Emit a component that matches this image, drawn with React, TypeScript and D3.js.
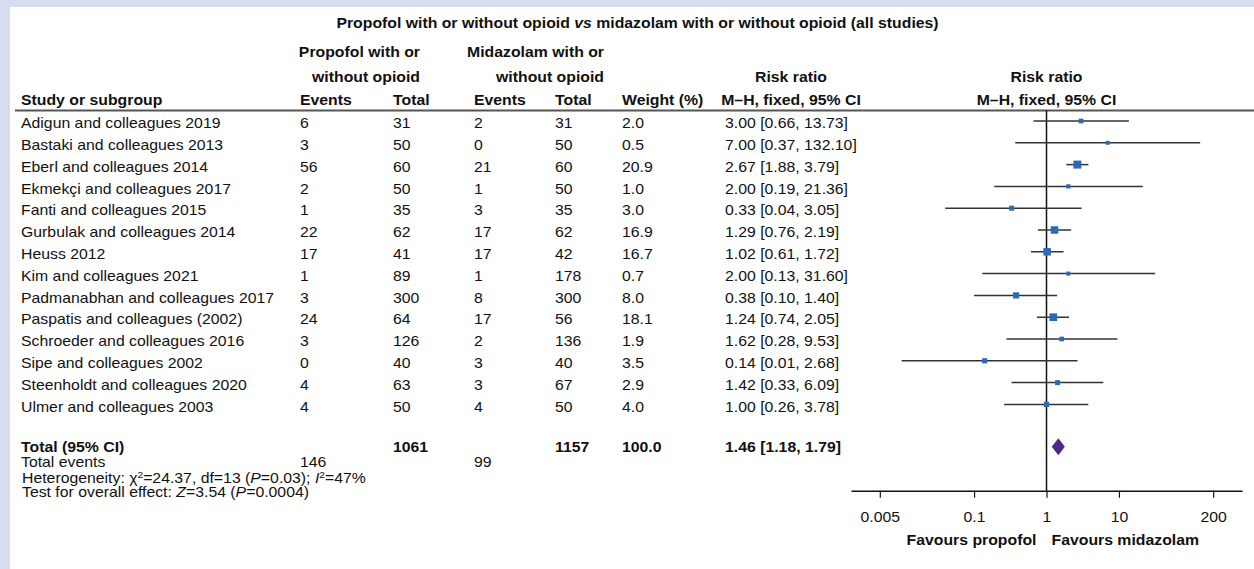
import { useRef, useEffect } from 'react'
import type { ReactNode } from 'react'
import * as d3 from 'd3'

const STUDIES = [
  'Adigun and colleagues 2019',
  'Bastaki and colleagues 2013',
  'Eberl and colleagues 2014',
  'Ekmekçi and colleagues 2017',
  'Fanti and colleagues 2015',
  'Gurbulak and colleagues 2014',
  'Heuss 2012',
  'Kim and colleagues 2021',
  'Padmanabhan and colleagues 2017',
  'Paspatis and colleagues (2002)',
  'Schroeder and colleagues 2016',
  'Sipe and colleagues 2002',
  'Steenholdt and colleagues 2020',
  'Ulmer and colleagues 2003',
]
const PROP_EVENTS = [6, 3, 56, 2, 1, 22, 17, 1, 3, 24, 3, 0, 4, 4]
const PROP_TOTAL = [31, 50, 60, 50, 35, 62, 41, 89, 300, 64, 126, 40, 63, 50]
const MIDA_EVENTS = [2, 0, 21, 1, 3, 17, 17, 1, 8, 17, 2, 3, 3, 4]
const MIDA_TOTAL = [31, 50, 60, 50, 35, 62, 42, 178, 300, 56, 136, 40, 67, 50]
const WEIGHT = [2.0, 0.5, 20.9, 1.0, 3.0, 16.9, 16.7, 0.7, 8.0, 18.1, 1.9, 3.5, 2.9, 4.0]
const RR = [3.0, 7.0, 2.67, 2.0, 0.33, 1.29, 1.02, 2.0, 0.38, 1.24, 1.62, 0.14, 1.42, 1.0]
const RR_LO = [0.66, 0.37, 1.88, 0.19, 0.04, 0.76, 0.61, 0.13, 0.1, 0.74, 0.28, 0.01, 0.33, 0.26]
const RR_HI = [13.73, 132.1, 3.79, 21.36, 3.05, 2.19, 1.72, 31.6, 1.4, 2.05, 9.53, 2.68, 6.09, 3.78]

const TOTAL = { prop: 1061, mida: 1157, weight: 100.0, rr: 1.46, lo: 1.18, hi: 1.79 }
const TOTAL_EVENTS = { prop: 146, mida: 99 }
const X_TICKS = [0.005, 0.1, 1, 10, 200]

const FONT = '"Liberation Sans", Arial, Helvetica, sans-serif'
const INK = '#111'
const BLUE = '#2a6bb8'
const PURPLE = '#4a2b8a'
// the source figure is a bit wider than tall, so text gets a horizontal stretch
const SX = 1.13
const FS = 14

// column x positions
const COL = { study: 21, ev1: 300, tot1: 393, ev2: 474, tot2: 555, weight: 622, rr: 725 }

const fmt2 = (v: number) => v.toFixed(2)
const ciText = (r: number, l: number, h: number) => `${fmt2(r)} [${fmt2(l)}, ${fmt2(h)}]`

function T({ x, y, anchor = 'start', b = false, children }: {
  x: number; y: number; anchor?: string; b?: boolean; children: ReactNode
}) {
  return (
    <text
      transform={`translate(${x},${y}) scale(${SX},1)`}
      textAnchor={anchor}
      fontFamily={FONT}
      fontSize={FS}
      fontWeight={b ? 700 : 400}
      fill={INK}
    >
      {children}
    </text>
  )
}

export default function App() {
  const axisRef = useRef<SVGGElement>(null)
  const W = 1254
  const H = 569

  const x = d3.scaleLog().domain([0.002, 500]).range([851, 1242])
  const yRow = d3.scalePoint<string>().domain(STUDIES).range([121, 404.4])
  const side = d3.scaleSqrt().domain([0, 20.9]).range([3.2, 8])
  const axisY = 490.7
  const totalY = 446.7

  useEffect(() => {
    if (!axisRef.current) return
    const g = d3.select(axisRef.current)
    g.selectAll('*').remove()
    g.call(
      d3.axisBottom(x)
        .tickValues(X_TICKS)
        .tickFormat(d => String(d))
        .tickSize(7)
        .tickSizeOuter(0)
        .tickPadding(14)
    )
    g.select('.domain').attr('stroke', INK).attr('stroke-width', 1.4)
    g.selectAll('.tick line').attr('stroke', INK).attr('stroke-width', 1.2)
    g.selectAll('.tick text')
      .attr('fill', INK)
      .attr('font-size', FS)
      .attr('font-family', FONT)
      .attr('transform', `scale(${SX},1)`)
  }, [])

  return (
    <div style={{ position: 'absolute', left: 0, top: 0 }}>
      <svg width={W} height={H} style={{ display: 'block' }}>
        <rect x={0} y={0} width={W} height={H} fill="#d5ddee" />
        <rect x={10} y={7} width={W - 10} height={H - 7} fill="#fff" />

        {/* title */}
        <T x={637.5} y={28.3} anchor="middle" b>
          Propofol with or without opioid <tspan fontStyle="italic">vs</tspan> midazolam with or without opioid (all studies)
        </T>

        {/* header */}
        <T x={420} y={56.5} anchor="end" b>Propofol with or</T>
        <T x={420} y={82} anchor="end" b>without opioid</T>
        <T x={604} y={56.5} anchor="end" b>Midazolam with or</T>
        <T x={604} y={82} anchor="end" b>without opioid</T>
        <T x={791} y={82} anchor="middle" b>Risk ratio</T>
        <T x={x(1)} y={82} anchor="middle" b>Risk ratio</T>
        <T x={COL.study} y={105} b>Study or subgroup</T>
        <T x={COL.ev1} y={105} b>Events</T>
        <T x={COL.tot1} y={105} b>Total</T>
        <T x={COL.ev2} y={105} b>Events</T>
        <T x={COL.tot2} y={105} b>Total</T>
        <T x={COL.weight} y={105} b>Weight (%)</T>
        <T x={791} y={105} anchor="middle" b>M–H, fixed, 95% CI</T>
        <T x={x(1)} y={105} anchor="middle" b>M–H, fixed, 95% CI</T>
        <line x1={15} x2={W} y1={110.5} y2={110.5} stroke="#555" strokeWidth={1.8} />

        {/* null line */}
        <line x1={x(1)} x2={x(1)} y1={110.5} y2={axisY} stroke={INK} strokeWidth={1.5} />

        {/* study rows */}
        {STUDIES.map((s, i) => {
          const y = yRow(s)!
          const ty = y + 7.2
          const a = side(WEIGHT[i])
          return (
            <g key={s}>
              <T x={COL.study} y={ty}>{s}</T>
              <T x={COL.ev1} y={ty}>{PROP_EVENTS[i]}</T>
              <T x={COL.tot1} y={ty}>{PROP_TOTAL[i]}</T>
              <T x={COL.ev2} y={ty}>{MIDA_EVENTS[i]}</T>
              <T x={COL.tot2} y={ty}>{MIDA_TOTAL[i]}</T>
              <T x={COL.weight} y={ty}>{WEIGHT[i].toFixed(1)}</T>
              <T x={COL.rr} y={ty}>{ciText(RR[i], RR_LO[i], RR_HI[i])}</T>
              <line x1={x(RR_LO[i])} x2={x(RR_HI[i])} y1={y} y2={y} stroke="#333" strokeWidth={1.5} />
              <rect x={x(RR[i]) - a / 2} y={y - a / 2} width={a} height={a} fill={BLUE} />
            </g>
          )
        })}

        {/* total */}
        <T x={COL.study} y={totalY + 5} b>Total (95% CI)</T>
        <T x={COL.tot1} y={totalY + 5} b>{TOTAL.prop}</T>
        <T x={COL.tot2} y={totalY + 5} b>{TOTAL.mida}</T>
        <T x={COL.weight} y={totalY + 5} b>{TOTAL.weight.toFixed(1)}</T>
        <T x={COL.rr} y={totalY + 5} b>{ciText(TOTAL.rr, TOTAL.lo, TOTAL.hi)}</T>
        <path
          d={`M${x(TOTAL.lo)},${totalY} L${x(TOTAL.rr)},${totalY - 8.5} L${x(TOTAL.hi)},${totalY} L${x(TOTAL.rr)},${totalY + 8.5} Z`}
          fill={PURPLE}
        />

        <T x={COL.study} y={467.3}>Total events</T>
        <T x={COL.ev1} y={467.3}>{TOTAL_EVENTS.prop}</T>
        <T x={COL.ev2} y={467.3}>{TOTAL_EVENTS.mida}</T>

        <T x={22} y={483}>
          Heterogeneity: χ<tspan dy={-5} fontSize={9}>2</tspan>
          <tspan dy={5}>=24.37, df=13 (</tspan>
          <tspan fontStyle="italic">P</tspan>=0.03); <tspan fontStyle="italic">I</tspan>
          <tspan dy={-5} fontSize={9}>2</tspan>
          <tspan dy={5}>=47%</tspan>
        </T>
        <T x={22} y={497}>
          Test for overall effect: <tspan fontStyle="italic">Z</tspan>=3.54 (<tspan fontStyle="italic">P</tspan>=0.0004)
        </T>

        {/* axis */}
        <g ref={axisRef} transform={`translate(0,${axisY})`} />
        <T x={x(1) - 10} y={545} anchor="end" b>Favours propofol</T>
        <T x={x(1) + 5} y={545} b>Favours midazolam</T>
      </svg>
    </div>
  )
}
